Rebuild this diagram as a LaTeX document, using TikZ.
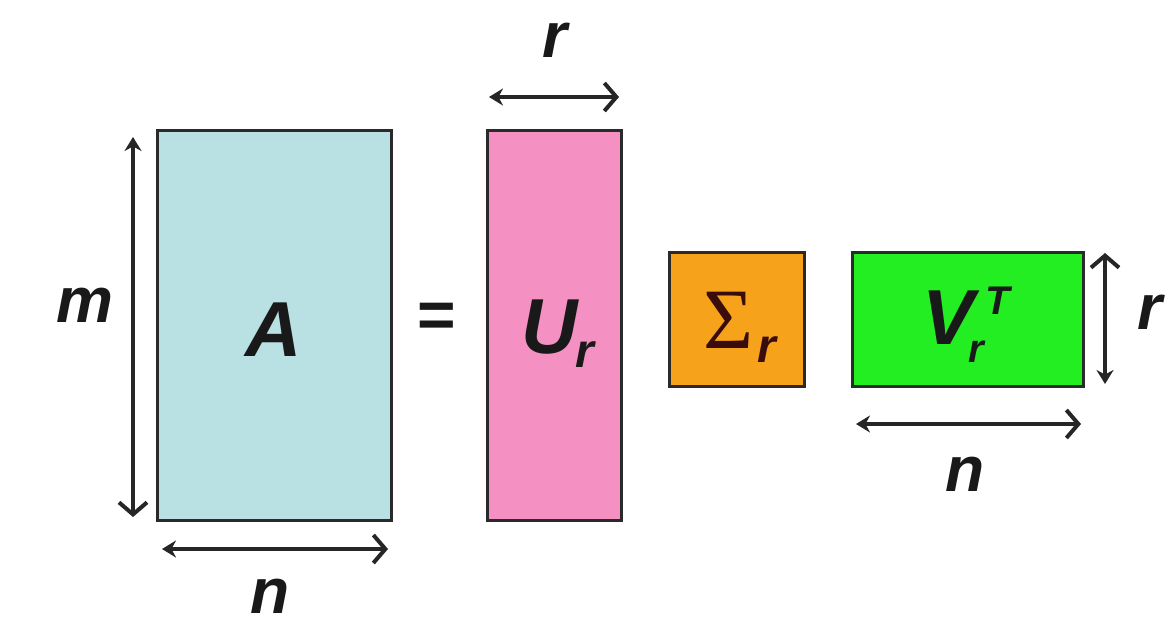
\documentclass[tikz,border=0pt]{standalone}
\usepackage{fontspec}
\setmainfont{Liberation Sans}
\newfontfamily\serifsym{Liberation Serif}
\usetikzlibrary{arrows.meta}
\definecolor{cA}{HTML}{B9E0E3}
\definecolor{cU}{HTML}{F590C2}
\definecolor{cS}{HTML}{F7A21B}
\definecolor{cV}{HTML}{22EE22}
\definecolor{edge}{HTML}{2A2A2A}
\definecolor{sig}{HTML}{3A0C0C}
\tikzset{
  mat/.style={draw=edge, line width=3pt},
  dim/.style={line width=4pt, draw=black!85, {Stealth[length=14pt,width=17pt]}-{Straight Barb[length=12pt,width=28pt,line width=4pt]}},
  lbl/.style={font=\fontsize{64}{70}\selectfont\bfseries\itshape, text=black!90, inner sep=0pt},
  big/.style={font=\fontsize{78}{84}\selectfont\bfseries\itshape, text=black!90, inner sep=0pt},
}
\begin{document}
\begin{tikzpicture}[x=1pt,y=-1pt]
\useasboundingbox (0,0) rectangle (1174,626);
% matrices
\draw[mat, fill=cA] (157,130) rectangle (391,520);
\node[big] (A) at (274,330) {A};
\draw[mat, fill=cU] (487,130) rectangle (621,520);
\node[big] (U) at (558,334) {U\kern-2pt\raisebox{-14pt}{\fontsize{48}{50}\selectfont r}};
\draw[mat, fill=cS] (669,252) rectangle (804,386);
\node[inner sep=0pt, text=sig] (S) at (740,327) {\fontsize{86}{88}\selectfont\serifsym Σ\kern4pt\raisebox{-14pt}{\fontsize{48}{50}\selectfont\fontspec{Liberation Sans}\bfseries\itshape r}};
\draw[mat, fill=cV] (852,252) rectangle (1083,386);
\node[big] (V) at (966,325) {V\kern-6pt\raisebox{-18pt}{\fontsize{40}{42}\selectfont r}\kern1pt\raisebox{30pt}{\fontsize{40}{42}\selectfont T}};
% equals
\node[lbl, font=\fontsize{66}{70}\selectfont\bfseries] (eq) at (437,320) {=};
% dimension arrows
\coordinate (m1) at (133,137); \coordinate (m2) at (133,517);
\draw[dim] (m1) -- (m2);
\node[lbl] (m) at (85,305) {m};
\coordinate (n1) at (162,549); \coordinate (n2) at (388,549);
\draw[dim] (n1) -- (n2);
\node[lbl] (n) at (270,596) {n};
\coordinate (r1) at (489,97); \coordinate (r2) at (619,97);
\draw[dim] (r1) -- (r2);
\node[lbl] (r) at (555,40) {r};
\coordinate (rv1) at (1105,384); \coordinate (rv2) at (1105,253);
\draw[dim] (rv1) -- (rv2);
\node[lbl] (rr) at (1150,312) {r};
\coordinate (nv1) at (856,424); \coordinate (nv2) at (1081,424);
\draw[dim] (nv1) -- (nv2);
\node[lbl] (nn) at (965,474) {n};
\end{tikzpicture}
\end{document}
